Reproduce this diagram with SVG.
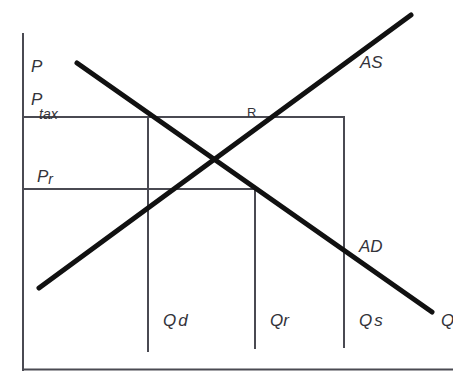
<svg xmlns="http://www.w3.org/2000/svg" width="453" height="371" viewBox="0 0 453 371">
<style>
.thin{stroke:#4a4a52;stroke-width:2;fill:none}
.thick{stroke:#111;stroke-width:5;stroke-linecap:round;fill:none}
text{font-family:"Liberation Sans",Arial,sans-serif;font-style:italic;fill:#33333a;font-size:17px}
.sub{font-size:14px}
.r{font-style:normal;font-size:13px}
</style>
<rect width="453" height="371" fill="#fff"/>
<g id="axes">
<line class="thin" x1="23" y1="33" x2="23" y2="371"/>
<line class="thin" x1="23" y1="369.5" x2="453" y2="369.5"/>
</g>
<g id="guides">
<polyline class="thin" points="23,117 344,117 344,348"/>
<polyline class="thin" points="23,189 255,189 255,349"/>
<line class="thin" x1="148" y1="117" x2="148" y2="352"/>
</g>
<g id="connectors">
<line id="AD" class="thick" x1="77" y1="63" x2="432" y2="312"/>
<line id="AS" class="thick" x1="39" y1="288" x2="411" y2="15"/>
</g>
<g id="labels">
<text x="31" y="72">P</text>
<text x="31" y="105">P</text>
<text class="sub" x="39" y="119">tax</text>
<text x="37" y="182">P<tspan class="sub" dy="2">r</tspan></text>
<text class="r" x="247" y="117">R</text>
<text x="360" y="68">AS</text>
<text x="359" y="252">AD</text>
<text x="163" y="326" letter-spacing="2">Qd</text>
<text x="270" y="326">Qr</text>
<text x="359" y="326" letter-spacing="2">Qs</text>
<text x="441" y="326">Q</text>
</g>
</svg>
